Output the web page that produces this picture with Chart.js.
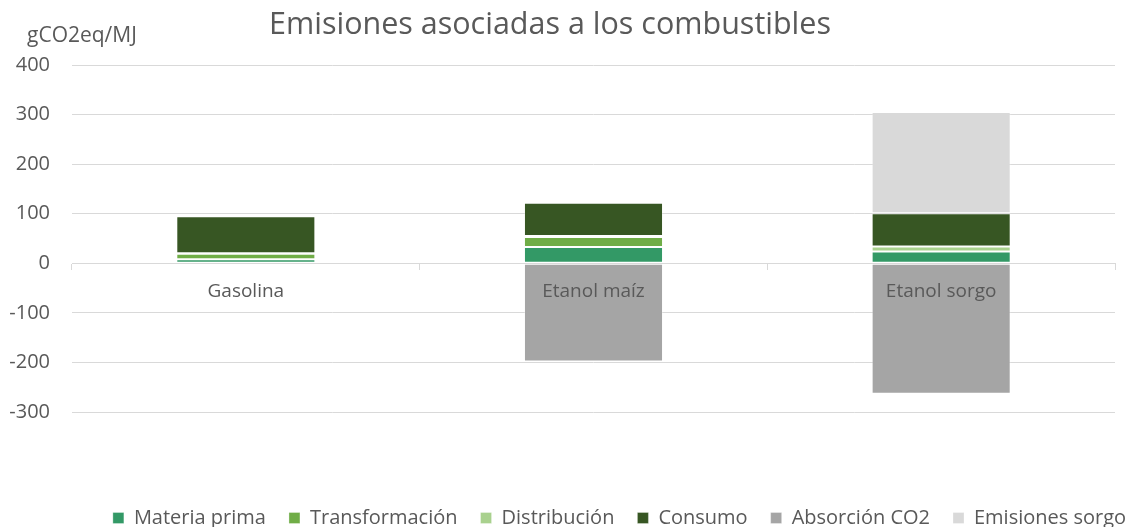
<!DOCTYPE html>
<html>
<head>
<meta charset="utf-8">
<script src="https://cdn.jsdelivr.net/npm/chart.js@4"></script>
<style>
  html, body { margin: 0; padding: 0; background: #fff; }
  #wrap { width: 1130px; height: 527px; }
</style>
</head>
<body>
<div id="wrap"><canvas id="myChart"></canvas></div>
<script>
const categories = ["Gasolina", "Etanol maíz", "Etanol sorgo"];
const materiaPrima = [8, 33, 24];
const transformacion = [11, 20, 0];
const distribucion = [1, 2, 10];
const consumo = [75, 67, 67];
const absorcionCO2 = [0, -198, -263];
const emisionesSorgo = [0, 0, 204];
const yTicks = [400, 300, 200, 100, 0, -100, -200, -300];

const chartTitle = "Emisiones asociadas a los combustibles";
const unitLabel = "gCO2eq/MJ";
const textColor = "#595959";
const gridColor = "#d9d9d9";

Chart.defaults.font.family = "'Open Sans', sans-serif";
Chart.defaults.color = textColor;

const makeSet = (label, data, color) => ({
    label: label,
    data: data,
    backgroundColor: color,
    borderColor: "rgba(255,255,255,0.3)",
    borderWidth: 1,
    borderSkipped: false,
    barPercentage: 0.4,
    categoryPercentage: 1
});

// titles drawn by hand so they sit where the reference has them
const headerText = {
    id: "headerText",
    afterLayout(chart) {
        // legend sits a little lower and to the right in the reference
        const l = chart.legend;
        l.left += 62; l.right += 62;
        l.top += 15; l.bottom += 15;
    },
    afterDraw(chart) {
        const ctx = chart.ctx;
        ctx.save();
        ctx.fillStyle = textColor;
        ctx.textBaseline = "alphabetic";
        ctx.font = "30.5px 'Open Sans'";
        ctx.textAlign = "center";
        ctx.fillText(chartTitle, 550, 34);
        ctx.font = "21px 'Open Sans'";
        ctx.textAlign = "left";
        ctx.fillText(unitLabel, 27, 42);
        ctx.restore();
    }
};

const config = {
    type: "bar",
    data: {
        labels: categories,
        datasets: [
            makeSet("Materia prima", materiaPrima, "#339966"),
            makeSet("Transformación", transformacion, "#70ad47"),
            makeSet("Distribución", distribucion, "#a9d18e"),
            makeSet("Consumo", consumo, "#375623"),
            makeSet("Absorción CO2", absorcionCO2, "#a5a5a5"),
            makeSet("Emisiones sorgo", emisionesSorgo, "#d9d9d9")
        ]
    },
    options: {
        responsive: true,
        maintainAspectRatio: false,
        animation: false,
        layout: { padding: { top: 65, right: 15, left: 0, bottom: 4 } },
        scales: {
            x: {
                stacked: true,
                position: { y: 0 },
                grid: { drawOnChartArea: false, drawTicks: true, tickLength: 6, color: gridColor, offset: true },
                border: { color: gridColor },
                ticks: { z: 1, autoSkip: false, maxRotation: 0, font: { size: 19 }, color: textColor, padding: 11 }
            },
            gap: {
                type: "category",
                labels: categories,
                position: "bottom",
                grid: { display: false },
                border: { display: false },
                ticks: { display: false },
                afterFit(s) { s.height = 58; }
            },
            y: {
                stacked: true,
                min: -300,
                max: 400,
                afterBuildTicks(s) { s.ticks = yTicks.map(v => ({ value: v })); },
                afterFit(s) { s.width = 72; },
                grid: { color: gridColor, drawTicks: false },
                border: { display: false },
                ticks: { font: { size: 20 }, color: textColor, padding: 22 }
            }
        },
        plugins: {
            legend: {
                position: "bottom",
                labels: {
                    boxWidth: 11,
                    boxHeight: 11,
                    padding: 23,
                    color: textColor,
                    font: { size: 20 }
                }
            },
            title: { display: false },
            tooltip: { enabled: false }
        }
    },
    plugins: [headerText]
};

new Chart(document.getElementById("myChart"), config);
</script>
</body>
</html>
